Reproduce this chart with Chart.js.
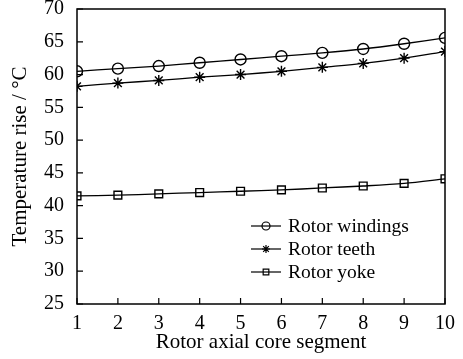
<!DOCTYPE html>
<html>
<head>
<meta charset="utf-8">
<script src="https://cdn.jsdelivr.net/npm/chart.js@4.4.1/dist/chart.umd.min.js"></script>
<style>
  html, body { margin: 0; padding: 0; background: #fff; }
  #wrap { width: 463px; height: 359px; }
</style>
</head>
<body>
<div id="wrap"><canvas id="c" width="463" height="359"></canvas></div>
<script>
// data
const segments = [1, 2, 3, 4, 5, 6, 7, 8, 9, 10];
const rotorWindings = [60.5, 60.9, 61.3, 61.8, 62.3, 62.8, 63.3, 63.9, 64.7, 65.6];
const rotorTeeth = [58.2, 58.7, 59.1, 59.6, 60.0, 60.5, 61.1, 61.7, 62.5, 63.5];
const rotorYoke = [41.5, 41.6, 41.8, 42.0, 42.2, 42.4, 42.7, 43.0, 43.4, 44.1];
const seriesNames = ['Rotor windings', 'Rotor teeth', 'Rotor yoke'];
const yTicks = [25, 30, 35, 40, 45, 50, 55, 60, 65, 70];

const FONT = 'Liberation Serif';

// frame, inward ticks and the legend inside the plot
const framePlugin = {
  id: 'frame',
  afterDraw(chart) {
    const ctx = chart.ctx;
    const a = chart.chartArea;
    const xs = chart.scales.x, ys = chart.scales.y;
    ctx.save();
    ctx.strokeStyle = '#000';
    ctx.lineWidth = 1.5;
    ctx.strokeRect(a.left, a.top, a.right - a.left, a.bottom - a.top);
    ctx.lineWidth = 1.2;
    ctx.beginPath();
    yTicks.forEach(v => {
      const y = ys.getPixelForValue(v);
      ctx.moveTo(a.left, y); ctx.lineTo(a.left + 6, y);
    });
    segments.forEach(v => {
      const x = xs.getPixelForValue(v);
      ctx.moveTo(x, a.bottom); ctx.lineTo(x, a.bottom - 6);
    });
    ctx.stroke();

    // legend
    const lx = a.left + 174, ly0 = a.bottom - 78, gap = 23;
    chart.data.datasets.forEach((ds, i) => {
      const y = ly0 + i * gap;
      ctx.strokeStyle = '#000';
      ctx.fillStyle = 'rgba(0,0,0,0)';
      ctx.lineWidth = 1.2;
      ctx.beginPath();
      ctx.moveTo(lx, y); ctx.lineTo(lx + 30, y);
      ctx.stroke();
      Chart.helpers.drawPoint(ctx, {
        pointStyle: ds.pointStyle, radius: 4, borderWidth: 1.2
      }, lx + 15, y);
      ctx.fillStyle = '#000';
      ctx.font = '19.5px ' + FONT;
      ctx.textBaseline = 'middle';
      ctx.textAlign = 'left';
      ctx.fillText(ds.label, lx + 37, y + 1);
    });
    ctx.restore();
  }
};

const mk = (label, data, style, r) => ({
  label, data,
  borderColor: '#000', borderWidth: 1.3,
  pointStyle: style, pointRadius: r, pointBorderColor: '#000',
  pointBackgroundColor: 'rgba(0,0,0,0)', pointBorderWidth: 1.4,
  tension: 0.3, fill: false
});

new Chart(document.getElementById('c'), {
  type: 'line',
  data: {
    labels: segments,
    datasets: [
      mk(seriesNames[0], rotorWindings, 'circle', 5.5),
      mk(seriesNames[1], rotorTeeth, 'star', 5.5),
      mk(seriesNames[2], rotorYoke, 'rect', 5.5)
    ]
  },
  options: {
    responsive: false,
    animation: false,
    layout: { padding: { top: 9, right: 18, left: 0, bottom: 0 } },
    plugins: { legend: { display: false }, tooltip: { enabled: false } },
    scales: {
      x: {
        type: 'linear', min: 1, max: 10,
        grid: { display: false },
        border: { display: false },
        afterFit: s => { s.height = 55; s.paddingRight = 0; s.paddingLeft = 0; },
        ticks: { stepSize: 1, color: '#000', font: { family: FONT, size: 20 }, padding: 0 },
        title: { display: true, text: 'Rotor axial core segment', color: '#000',
                 font: { family: FONT, size: 21 }, padding: { top: 0, bottom: 4 } }
      },
      y: {
        min: 25, max: 70,
        grid: { display: false },
        border: { display: false },
        afterFit: s => { s.width = 77; s.paddingTop = 0; s.paddingBottom = 0; },
        ticks: { stepSize: 5, color: '#000', font: { family: FONT, size: 20 }, padding: 5 },
        title: { display: true, text: 'Temperature rise / °C', color: '#000',
                 font: { family: FONT, size: 21 }, padding: { top: 8, bottom: 0 } }
      }
    }
  },
  plugins: [framePlugin]
});
</script>
</body>
</html>
